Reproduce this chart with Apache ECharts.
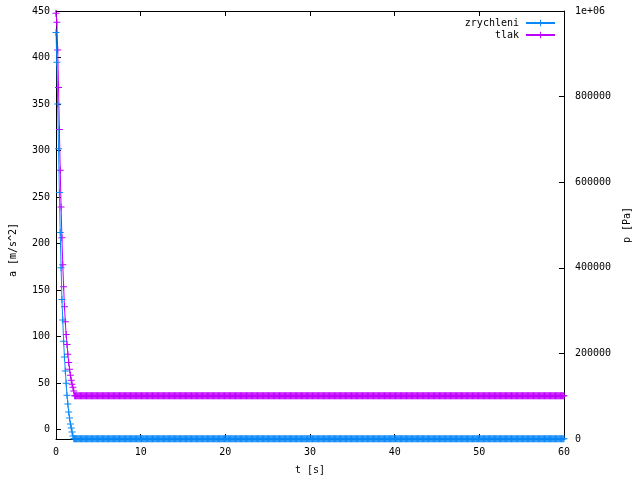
<!DOCTYPE html>
<html>
<head>
<meta charset="utf-8">
<script src="https://cdn.jsdelivr.net/npm/echarts@6/dist/echarts.min.js"></script>
<style>html,body{margin:0;padding:0;background:#fff}#c{width:640px;height:480px}</style>
</head>
<body>
<div id="c"></div>
<script>
// ---- data ----
const seriesNames = ['zrychleni', 'tlak'];
const timeStep = 0.1;          // s, sampling step
const timeEnd = 60;            // s
// acceleration a [m/s^2], samples at t = 0, 0.1, 0.2, ...
const accelDecay = [427, 395, 350, 302, 255, 212, 174, 140, 118, 95, 78, 63, 50, 37, 27.5, 19, 12.5, 6, 1.8, -2.5, -6.8];
const accelRest = -9.81;       // value after the decay, to the end
// pressure p [Pa], samples at t = 0, 0.1, 0.2, ...
const pressDecay = [995000, 974000, 909000, 821000, 723000, 628000, 542000, 470000, 407000, 356000, 309000, 274000, 244000, 221000, 198000, 179000, 163000, 149000, 137000, 128000, 121000, 112000];
const pressRest = 101325;      // value after the decay, to the end
// axis ticks
const xTicks = [0, 10, 20, 30, 40, 50, 60];
const yLeftTicks = [0, 50, 100, 150, 200, 250, 300, 350, 400, 450];
const yRightTicks = [0, 200000, 400000, 600000, 800000, 1000000];
const yRightLabels = ['0', '200000', '400000', '600000', '800000', '1e+06'];

// ---- build series from the read values ----
function buildSeries(decay, rest) {
  const n = Math.round(timeEnd / timeStep);
  const out = [];
  for (let i = 0; i <= n; i++) {
    const t = +(i * timeStep).toFixed(1);
    out.push([t, i < decay.length ? decay[i] : rest]);
  }
  return out;
}
const accelData = buildSeries(accelDecay, accelRest);
const pressData = buildSeries(pressDecay, pressRest);

const FONT = 'DejaVu Sans Mono';
const plus = 'path://M-0.5,-3.5h1v3h3v1h-3v3h-1v-3h-3v-1h3z';
const blue = '#0a88f8';
const magenta = '#c000ff';

const chart = echarts.init(document.getElementById('c'), null, {renderer: 'canvas'});
chart.setOption({
  animation: false,
  backgroundColor: '#fff',
  textStyle: {fontFamily: FONT, fontSize: 10, color: '#000'},
  grid: {left: 56, right: 74, top: 11, bottom: 40, containLabel: false},
  legend: {
    data: seriesNames,
    orient: 'vertical',
    right: 79,
    top: 13,
    align: 'right',
    itemWidth: 29,
    itemHeight: 8,
    itemGap: 2,
    textStyle: {fontFamily: FONT, fontSize: 10, color: '#000', padding: [0, 2, 0, 0]}
  },
  xAxis: [{
    type: 'value', min: xTicks[0], max: xTicks[xTicks.length - 1], interval: 10,
    position: 'bottom',
    name: 't [s]', nameLocation: 'middle', nameGap: 26,
    nameTextStyle: {fontFamily: FONT, fontSize: 10, color: '#000'},
    axisLine: {onZero: false, lineStyle: {color: '#000', width: 1}},
    axisTick: {inside: true, length: 5, lineStyle: {color: '#000'}},
    axisLabel: {margin: 8, color: '#000', fontFamily: FONT, fontSize: 10},
    splitLine: {show: false}
  }, {
    type: 'value', min: xTicks[0], max: xTicks[xTicks.length - 1], interval: 10,
    position: 'top',
    axisLine: {onZero: false, lineStyle: {color: '#000', width: 1}},
    axisTick: {inside: true, length: 5, lineStyle: {color: '#000'}},
    axisLabel: {show: false},
    splitLine: {show: false}
  }],
  yAxis: [{
    type: 'value', min: -10, max: 450,
    position: 'left',
    name: 'a [m/s^2]', nameLocation: 'middle', nameGap: 38, nameRotate: 90,
    nameTextStyle: {fontFamily: FONT, fontSize: 10, color: '#000', padding: [0, 50, 0, 0]},
    axisLine: {show: true, onZero: false, lineStyle: {color: '#000', width: 1}},
    axisTick: {show: true, inside: true, length: 5, customValues: yLeftTicks, lineStyle: {color: '#000'}},
    axisLabel: {margin: 6, color: '#000', fontFamily: FONT, fontSize: 10, customValues: yLeftTicks},
    splitLine: {show: false}
  }, {
    type: 'value', min: yRightTicks[0], max: yRightTicks[yRightTicks.length - 1], interval: 200000,
    position: 'right',
    name: 'p [Pa]', nameLocation: 'middle', nameGap: 51, nameRotate: 90,
    nameTextStyle: {fontFamily: FONT, fontSize: 10, color: '#000'},
    axisLine: {show: true, onZero: false, lineStyle: {color: '#000', width: 1}},
    axisTick: {show: true, inside: true, length: 5, lineStyle: {color: '#000'}},
    axisLabel: {margin: 11, color: '#000', fontFamily: FONT, fontSize: 10,
      formatter: function (v) { const i = yRightTicks.indexOf(v); return i >= 0 ? yRightLabels[i] : String(v); }},
    splitLine: {show: false}
  }],
  series: [{
    name: seriesNames[0], type: 'line', xAxisIndex: 0, yAxisIndex: 0,
    data: accelData,
    symbol: plus, symbolSize: 7, showSymbol: true, showAllSymbol: true,
    lineStyle: {color: blue, width: 1},
    itemStyle: {color: blue},
    z: 3
  }, {
    name: seriesNames[1], type: 'line', xAxisIndex: 0, yAxisIndex: 1,
    data: pressData,
    symbol: plus, symbolSize: 7, showSymbol: true, showAllSymbol: true,
    lineStyle: {color: magenta, width: 1},
    itemStyle: {color: magenta},
    z: 2
  }]
});
</script>
</body>
</html>
